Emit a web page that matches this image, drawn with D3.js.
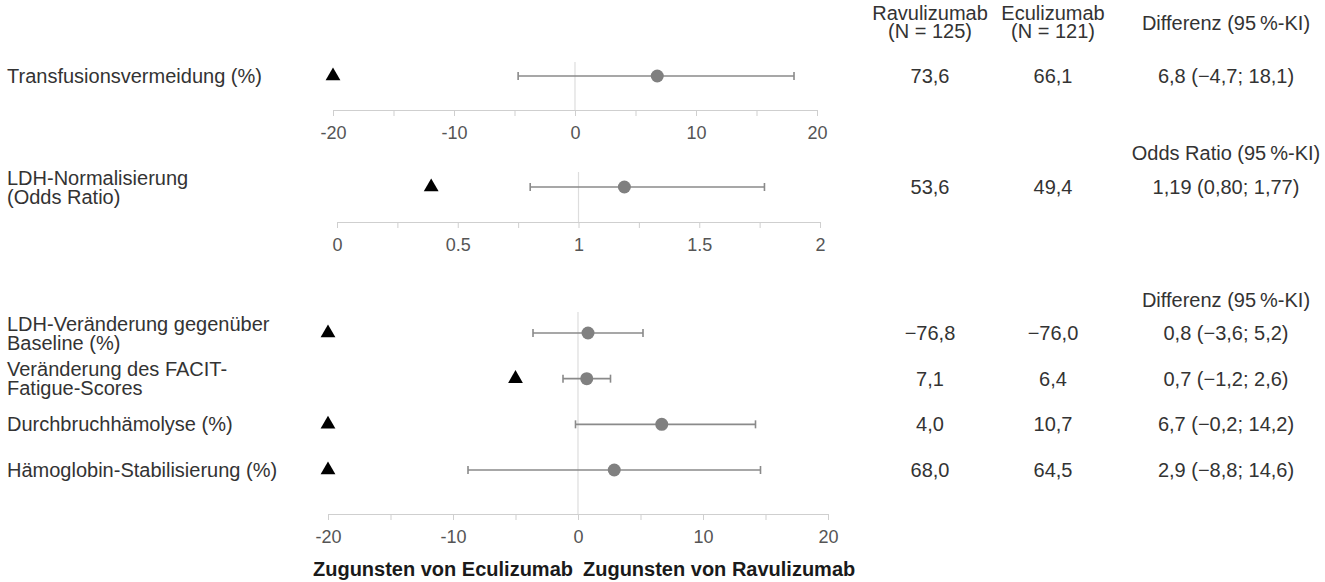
<!DOCTYPE html>
<html lang="de">
<head>
<meta charset="utf-8">
<script src="https://d3js.org/d3.v7.min.js"></script>
<style>
  body { margin: 0; background: #fff; }
  svg { font-family: "Liberation Sans", Arial, sans-serif; }
  .lbl { fill: #333; font-size: 20px; }
  .num { fill: #333; font-size: 20px; }
  .axis path, .axis line { stroke: #cfcfcf; }
  .axis text { fill: #555; font-size: 18px; font-family: "Liberation Sans", Arial, sans-serif; }
  .ref { stroke: #ddd; stroke-width: 1.2px; }
  .ci { stroke: #8a8a8a; stroke-width: 1.6px; }
  .dot { fill: #808080; }
  .bold { font-weight: bold; font-size: 20px; fill: #1a1a1a; }
</style>
</head>
<body>
<svg id="forest" width="1325" height="582"></svg>
<script>
// ---- data ----
const rowLabels = [
  ["Transfusionsvermeidung (%)"],
  ["LDH-Normalisierung", "(Odds Ratio)"],
  ["LDH-Veränderung gegenüber", "Baseline (%)"],
  ["Veränderung des FACIT-", "Fatigue-Scores"],
  ["Durchbruchhämolyse (%)"],
  ["Hämoglobin-Stabilisierung (%)"]
];
const estimates = [6.8, 1.19, 0.8, 0.7, 6.7, 2.9];
const ciLow     = [-4.7, 0.80, -3.6, -1.2, -0.2, -8.8];
const ciHigh    = [18.1, 1.77, 5.2, 2.6, 14.2, 14.6];
const margins   = [-20, 0.39, -20, -5, -20, -20];
const ravulizumab = ["73,6", "53,6", "\u221276,8", "7,1", "4,0", "68,0"];
const eculizumab  = ["66,1", "49,4", "\u221276,0", "6,4", "10,7", "64,5"];
const effectText  = ["6,8 (\u22124,7; 18,1)", "1,19 (0,80; 1,77)", "0,8 (\u22123,6; 5,2)",
                     "0,7 (\u22121,2; 2,6)", "6,7 (\u22120,2; 14,2)", "2,9 (\u22128,8; 14,6)"];
const armHeaders = [["Ravulizumab", "(N = 125)"], ["Eculizumab", "(N = 121)"]];
const effectHeaders = ["Differenz (95\u2009%-KI)", "Odds Ratio (95\u2009%-KI)", "Differenz (95\u2009%-KI)"];
const rowPanel = [0, 1, 2, 2, 2, 2];
const diffTicks = [-20, -10, 0, 10, 20];
const orTicks = [0, 0.5, 1, 1.5, 2];
const favourLabels = ["Zugunsten von Eculizumab", "Zugunsten von Ravulizumab"];

// ---- layout ----
const svg = d3.select("#forest");
const panels = [
  { domain: [-20, 20], range: [333, 817], ref: 0, labels: diffTicks, step: 5,
    rows: [76, 76], top: 62, axisY: 110, headerY: 23 },
  { domain: [0, 2], range: [337, 820], ref: 1, labels: orTicks, step: 0.25,
    rows: [187, 187], top: 172, axisY: 222, headerY: 153 },
  { domain: [-20, 20], range: [328, 828], ref: 0, labels: diffTicks, step: 5,
    rows: [333, 470], top: 312, axisY: 514, headerY: 300 }
];
const colX = [930, 1053, 1226];

panels.forEach((p, pi) => {
  p.x = d3.scaleLinear().domain(p.domain).range(p.range);
  const idx = rowPanel.map((v, i) => v === pi ? i : -1).filter(i => i >= 0);
  p.y = d3.scalePoint().domain(idx).range(p.rows);
  if (idx.length === 1) p.y = () => p.rows[0];

  // axis with minor ticks
  const vals = d3.range(p.domain[0], p.domain[1] + p.step / 2, p.step);
  const g = svg.append("g").attr("class", "axis")
    .attr("transform", `translate(0,${p.axisY})`)
    .call(d3.axisBottom(p.x).tickValues(vals).tickSize(6).tickSizeOuter(0)
      .tickFormat(d => p.labels.some(l => Math.abs(l - d) < 1e-9) ? String(d) : ""));
  g.selectAll("text").attr("dy", null).attr("y", 29);

  svg.append("line").attr("class", "ref")
    .attr("x1", p.x(p.ref)).attr("x2", p.x(p.ref))
    .attr("y1", p.top).attr("y2", p.axisY);

  svg.append("text").attr("class", "num")
    .attr("x", colX[2]).attr("y", p.headerY).attr("dy", "0.35em")
    .attr("text-anchor", "middle").text(effectHeaders[pi]);

  idx.forEach(i => {
    const y = p.y(i);
    svg.append("line").attr("class", "ci")
      .attr("x1", p.x(ciLow[i])).attr("x2", p.x(ciHigh[i])).attr("y1", y).attr("y2", y);
    [ciLow[i], ciHigh[i]].forEach(v => {
      svg.append("line").attr("class", "ci")
        .attr("x1", p.x(v)).attr("x2", p.x(v)).attr("y1", y - 4).attr("y2", y + 4);
    });
    svg.append("circle").attr("class", "dot")
      .attr("cx", p.x(estimates[i])).attr("cy", y).attr("r", 6.5);
    svg.append("path")
      .attr("d", d3.symbol(d3.symbolTriangle, 95)())
      .attr("transform", `translate(${p.x(margins[i])},${y})`)
      .attr("fill", "#000");

    const lines = rowLabels[i];
    const t = svg.append("text").attr("class", "lbl").attr("x", 7)
      .attr("y", y - (lines.length - 1) * 9.5);
    lines.forEach((s, k) => t.append("tspan").attr("x", 7).attr("dy", k ? 19 : "0.35em").text(s));

    [ravulizumab[i], eculizumab[i], effectText[i]].forEach((s, c) => {
      svg.append("text").attr("class", "num").attr("x", colX[c]).attr("y", y)
        .attr("dy", "0.35em").attr("text-anchor", "middle").text(s);
    });
  });
});

// arm headers
armHeaders.forEach((h, c) => {
  h.forEach((s, k) => {
    svg.append("text").attr("class", "num").attr("x", colX[c]).attr("y", 13 + k * 18)
      .attr("dy", "0.35em").attr("text-anchor", "middle").text(s);
  });
});

// favour labels under bottom axis
const bx = panels[2].x;
svg.append("text").attr("class", "bold").attr("x", bx(0) - 5).attr("y", 576)
  .attr("text-anchor", "end").text(favourLabels[0]);
svg.append("text").attr("class", "bold").attr("x", bx(0) + 5).attr("y", 576)
  .attr("text-anchor", "start").text(favourLabels[1]);
</script>
</body>
</html>
